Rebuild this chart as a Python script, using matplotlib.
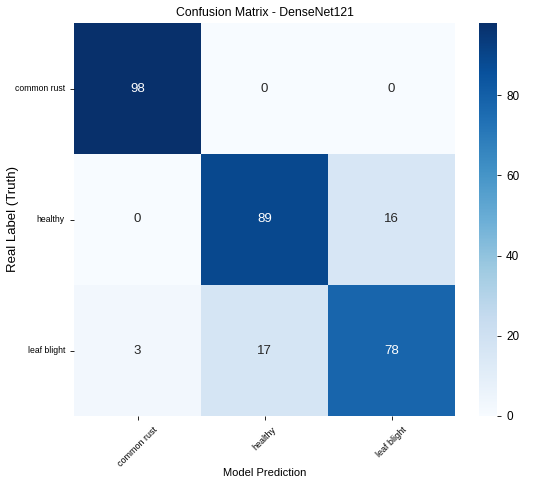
import matplotlib
matplotlib.use("Agg")
import matplotlib.pyplot as plt
import seaborn as sns
import numpy as np

classes = ["common rust", "healthy", "leaf blight"]
row_common_rust = [98, 0, 0]
row_healthy = [0, 89, 16]
row_leaf_blight = [3, 17, 78]
cm = np.array([row_common_rust, row_healthy, row_leaf_blight])
cbar_ticks = [0, 20, 40, 60, 80]

plt.rcParams['font.family'] = ['Liberation Sans', 'DejaVu Sans']

fig = plt.figure(figsize=(5.5, 4.84), dpi=100)
ax = fig.add_axes([74/550, 1 - 416/484, (455-74)/550, (416-23)/484])
cax = fig.add_axes([479/550, 1 - 416/484, (497-479)/550, (416-23)/484])

sns.heatmap(cm, annot=True, fmt="d", cmap="Blues", ax=ax, cbar_ax=cax,
            xticklabels=classes, yticklabels=classes,
            annot_kws={"fontsize": 9.5}, vmin=0, vmax=98)

ax.set_title("Confusion Matrix - DenseNet121", fontsize=8.8, pad=5)
ax.set_xlabel("Model Prediction", fontsize=8, labelpad=0)
ax.set_ylabel("Real Label (Truth)", fontsize=9.5)
ax.yaxis.set_label_coords(-0.144, 0.5)
ax.tick_params(axis='x', labelsize=6.5, length=3, width=0.6)
ax.tick_params(axis='y', labelsize=6.2, length=3, width=0.6)
plt.setp(ax.get_xticklabels(), rotation=45, ha='center')
plt.setp(ax.get_yticklabels(), rotation=0)
cax.tick_params(labelsize=8.5, length=3, width=0.6)
cax.set_yticks(cbar_ticks)

fig.savefig("out.png", dpi=100)
